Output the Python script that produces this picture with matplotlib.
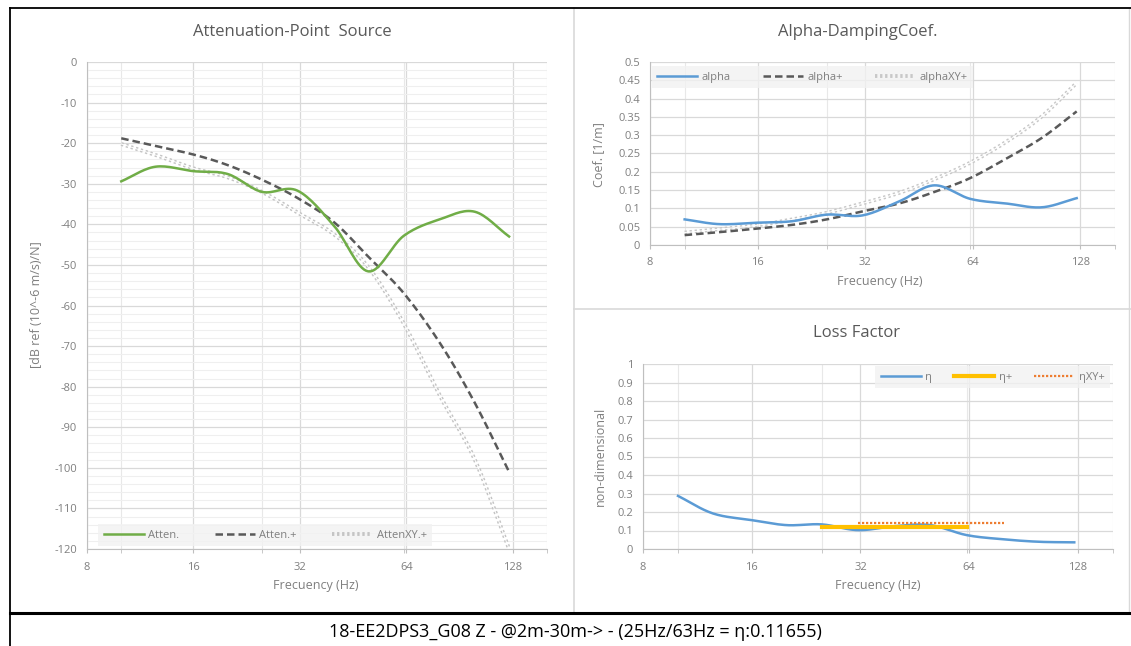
import numpy as np
import matplotlib
matplotlib.use("Agg")
import matplotlib.pyplot as plt
from matplotlib.ticker import FixedLocator, FuncFormatter, NullFormatter, MultipleLocator
from matplotlib.lines import Line2D

plt.rcParams["font.family"] = ["Open Sans", "DejaVu Sans"]

# 1/3 octave band centres (Hz)
freq = [10, 12.5, 16, 20, 25, 31.5, 40, 50, 63, 80, 100, 125]

# Attenuation - point source [dB]
atten = [-29.4, -25.8, -26.9, -27.6, -32.0, -31.7, -40.4, -51.6, -42.8, -38.7, -36.9, -43.0]
atten_plus = [-18.8, -20.7, -22.8, -25.4, -29.0, -33.5, -39.5, -48.0, -57.0, -69.5, -84.0, -101.0]
atten_xy = [-20.2, -22.9, -26.2, -28.4, -32.0, -37.1, -42.5, -50.6, -64.5, -82.5, -98.0, -120.0]

# Alpha damping coefficient [1/m]
alpha = [0.070, 0.057, 0.061, 0.065, 0.083, 0.081, 0.120, 0.163, 0.126, 0.113, 0.103, 0.128]
alpha_plus = [0.027, 0.035, 0.045, 0.055, 0.070, 0.092, 0.114, 0.145, 0.183, 0.238, 0.293, 0.365]
alpha_xy = [0.034, 0.043, 0.054, 0.070, 0.088, 0.114, 0.143, 0.180, 0.225, 0.284, 0.352, 0.443]

# Loss factor
eta = [0.287, 0.192, 0.156, 0.129, 0.133, 0.102, 0.124, 0.129, 0.075, 0.052, 0.039, 0.036]
eta_plus_freq = [25, 31.5, 40, 50, 63]
eta_plus = [0.11655, 0.11655, 0.11655, 0.11655, 0.11655]
eta_xy_freq = [31.5, 40, 50, 63, 80]
eta_xy = [0.142, 0.142, 0.142, 0.142, 0.142]

footer = "18-EE2DPS3_G08 Z - @2m-30m-> - (25Hz/63Hz = \u03b7:0.11655)"

W, H = 1131, 646
TXT = "#595959"
TICK = "#7f7f7f"


def smooth(x, y, n=16):
    # Excel-like smoothed line (Catmull-Rom through the points, log2 x)
    pts = np.column_stack([np.log2(x), np.asarray(y, float)])
    P = np.vstack([2 * pts[0] - pts[1], pts, 2 * pts[-1] - pts[-2]])
    t = np.linspace(0, 1, n, endpoint=False)[:, None]
    out = []
    for i in range(1, len(P) - 2):
        p0, p1, p2, p3 = P[i - 1], P[i], P[i + 1], P[i + 2]
        seg = 0.5 * (2 * p1 + (-p0 + p2) * t + (2 * p0 - 5 * p1 + 4 * p2 - p3) * t ** 2
                     + (-p0 + 3 * p1 - 3 * p2 + p3) * t ** 3)
        out.append(seg)
    out.append(P[-2][None, :])
    arr = np.vstack(out)
    return 2 ** arr[:, 0], arr[:, 1]


def px_axes(x0, y0, x1, y1):
    return fig.add_axes([x0 / W, 1 - y1 / H, (x1 - x0) / W, (y1 - y0) / H])


def style(ax, ylim, ystep, ymin_step=None):
    ax.set_xscale("log", base=2)
    ax.set_xlim(8, 160)
    ax.set_ylim(*ylim)
    ax.xaxis.set_major_locator(FixedLocator([8, 16, 32, 64, 128]))
    ax.xaxis.set_major_formatter(FuncFormatter(lambda v, p: f"{v:g}"))
    ax.xaxis.set_minor_locator(FixedLocator([10, 25, 63, 160]))
    ax.xaxis.set_minor_formatter(NullFormatter())
    ax.yaxis.set_major_locator(MultipleLocator(ystep))
    ax.yaxis.set_major_formatter(FuncFormatter(lambda v, p: f"{round(v, 4):g}"))
    if ymin_step:
        ax.yaxis.set_minor_locator(MultipleLocator(ymin_step))
        ax.grid(which="minor", axis="y", color="#efefef", lw=0.8)
    ax.grid(which="major", color="#d9d9d9", lw=0.9)
    ax.grid(which="minor", axis="x", color="#e8e8e8", lw=0.8)
    ax.set_axisbelow(True)
    for s in ["top", "right"]:
        ax.spines[s].set_visible(False)
    for s in ["left", "bottom"]:
        ax.spines[s].set_color("#bfbfbf")
    ax.tick_params(axis="y", which="both", length=0, pad=7, labelsize=8, labelcolor=TICK)
    ax.tick_params(axis="x", which="both", length=3, color="#bfbfbf", pad=6,
                   labelsize=8, labelcolor=TICK)


def dotted_double(ax, x, y, color, label):
    sx, sy = smooth(x, y)
    ax.plot(sx, sy, color=color, lw=2.8, ls=(0, (0.6, 0.7)), label=label, zorder=2)
    ax.plot(sx, sy, color="white", lw=0.7, zorder=2.1)


LEG = dict(ncol=3, fontsize=8, handlelength=3.6, handletextpad=0.4, borderpad=0.5,
           frameon=True, facecolor="#f2f2f2", edgecolor="none", fancybox=False,
           borderaxespad=0, labelcolor=TICK)

fig = plt.figure(figsize=(W / 100, H / 100), dpi=100)

# ---- Attenuation-Point Source
ax1 = px_axes(87, 62, 547, 549)
style(ax1, (-120, 0), 10, 2)
dotted_double(ax1, freq, atten_xy, "#c4c4c4", "AttenXY.+")
ax1.plot(*smooth(freq, atten_plus), color="#595959", lw=1.8, ls=(0, (3, 1.6)), label="Atten.+", zorder=3)
ax1.plot(*smooth(freq, atten), color="#70ad47", lw=1.8, label="Atten.", zorder=4)
h, l = ax1.get_legend_handles_labels()
order = [2, 1, 0]
ax1.legend([h[i] for i in order], [l[i] for i in order], loc="lower left",
           bbox_to_anchor=(0.024, 0.006), columnspacing=3.2, **LEG)

# ---- Alpha-DampingCoef.
ax2 = px_axes(650, 62, 1115, 245)
style(ax2, (0, 0.5), 0.05)
dotted_double(ax2, freq, alpha_xy, "#c8c8c8", "alphaXY+")
ax2.plot(*smooth(freq, alpha_plus), color="#595959", lw=1.8, ls=(0, (3, 1.6)), label="alpha+", zorder=3)
ax2.plot(*smooth(freq, alpha), color="#5b9bd5", lw=1.8, label="alpha", zorder=4)
h, l = ax2.get_legend_handles_labels()
ax2.legend([h[i] for i in order], [l[i] for i in order], loc="upper left",
           bbox_to_anchor=(0.004, 0.978), columnspacing=2.9, **LEG)

# ---- Loss Factor
ax3 = px_axes(643, 364, 1113, 549)
style(ax3, (0, 1), 0.1)
ax3.plot(*smooth(freq, eta), color="#5b9bd5", lw=1.8, label="\u03b7", zorder=3)
ax3.plot(eta_plus_freq, eta_plus, color="#ffc000", lw=3.0, label="\u03b7+", zorder=4)
ax3.plot(eta_xy_freq, eta_xy, color="#ed7d31", lw=1.6, ls=(0, (1, 0.8)), label="\u03b7XY+", zorder=5)
ax3.legend(loc="upper right", bbox_to_anchor=(0.994, 0.989), columnspacing=2.0, **LEG)

# ---- titles and axis labels
def ftext(x, y, s, **kw):
    fig.text(x / W, 1 - y / H, s, ha="center", va="center", **kw)

ftext(292, 32, "Attenuation-Point  Source", fontsize=12, color=TXT)
ftext(858, 32, "Alpha-DampingCoef.", fontsize=12, color=TXT)
ftext(857, 333, "Loss Factor", fontsize=12, color=TXT)
ftext(316, 586, "Frecuency (Hz)", fontsize=9, color=TICK)
ftext(880, 282, "Frecuency (Hz)", fontsize=9, color=TICK)
ftext(878, 586, "Frecuency (Hz)", fontsize=9, color=TICK)
ftext(37, 305, "[dB ref (10^-6 m/s)/N]", fontsize=9, color=TICK, rotation=90)
ftext(599, 155, "Coef. [1/m]", fontsize=9, color=TICK, rotation=90)
ftext(600, 456, "non-dimensional", fontsize=9, color=TICK, rotation=90)
ftext(575, 632, footer, fontsize=13, color="black")

# ---- frame lines
def fline(xs, ys, **kw):
    fig.add_artist(Line2D([x / W for x in xs], [1 - y / H for y in ys],
                          transform=fig.transFigure, **kw))

fline([574, 574], [8, 612], color="#d9d9d9", lw=1.2)
fline([574, 1131], [309, 309], color="#d9d9d9", lw=1.2)
fline([1129, 1129], [8, 612], color="#d9d9d9", lw=1.0)
fline([10, 1131], [8, 8], color="black", lw=1.3)
fline([10, 10], [8, 646], color="black", lw=1.3)
fline([10, 1131], [613, 613], color="black", lw=2.2)

fig.savefig("out.png", dpi=100)
